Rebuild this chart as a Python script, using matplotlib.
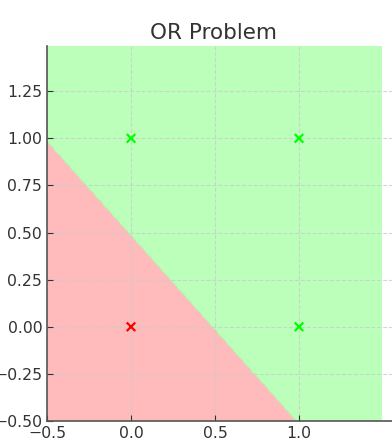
import numpy as np
import matplotlib.pyplot as plt
from matplotlib.colors import ListedColormap

# OR truth table
X = np.array([[0, 0], [0, 1], [1, 0], [1, 1]])
y = np.array([0, 1, 1, 1])

# trained perceptron parameters
weights = np.array([1.0, 1.0])
bias = -0.49

title = 'OR Problem'
xticks = [-0.5, 0.0, 0.5, 1.0]
yticks = [-0.5, -0.25, 0.0, 0.25, 0.5, 0.75, 1.0, 1.25]

fig = plt.figure(figsize=(3.92, 4.45), dpi=100)
ax = fig.add_axes([47 / 392, 24 / 445, 345 / 392, 375 / 445])

xx, yy = np.meshgrid(np.arange(X[:, 0].min() - 0.5, X[:, 0].max() + 0.5, 0.01),
                     np.arange(X[:, 1].min() - 0.5, X[:, 1].max() + 0.5, 0.01))
Z = (xx * weights[0] + yy * weights[1] + bias > 0).astype(int)
ax.contourf(xx, yy, Z, levels=[-0.5, 0.5, 1.5], cmap=ListedColormap(['#FFAAAA', '#AAFFAA']), alpha=0.8)

cols = np.where(y == 1, '#00FF00', '#FF0000')
ax.scatter(X[:, 0], X[:, 1], c=cols, marker='x', s=38, linewidths=1.6, zorder=3)

ax.set_xlim(-0.5, -0.5 + 345 / 168)
ax.set_ylim(-0.5, 1.49)
ax.set_title(title, fontsize=15.5, color='#333333', x=0.483, pad=5)
ax.set_xticks(xticks)
ax.set_yticks(yticks)
ax.tick_params(direction='in', length=4, labelsize=11.3, colors='#333333')
ax.grid(True, linestyle='--', color='#cccccc', linewidth=0.8, alpha=0.8)
for s in ['top', 'right']:
    ax.spines[s].set_visible(False)
for s in ['left', 'bottom']:
    ax.spines[s].set_color('#555555')
    ax.spines[s].set_linewidth(1.2)
    ax.spines[s].set_zorder(4)

fig.savefig('out.png', dpi=100)
